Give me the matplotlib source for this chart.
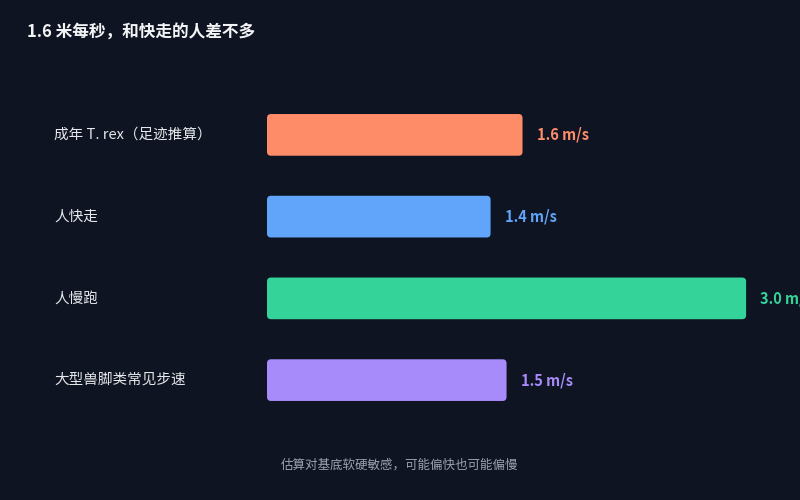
import matplotlib
matplotlib.use("Agg")
import matplotlib.pyplot as plt
from matplotlib.patches import FancyBboxPatch
from matplotlib.transforms import blended_transform_factory

plt.rcParams['font.family'] = ['Noto Sans CJK SC', 'DejaVu Sans']

# data
categories = ["成年 T. rex（足迹推算）", "人快走", "人慢跑", "大型兽脚类常见步速"]
speeds = [1.6, 1.4, 3.0, 1.5]
value_labels = ["1.6 m/s", "1.4 m/s", "3.0 m/s", "1.5 m/s"]
colors = ["#ff8c69", "#60a5fa", "#34d399", "#a78bfa"]
title = "1.6 米每秒，和快走的人差不多"
footnote = "估算对基底软硬敏感，可能偏快也可能偏慢"

BG = "#0f1422"
W, H = 800, 500

fig = plt.figure(figsize=(8, 5), dpi=100, facecolor=BG)
# axes: x from 267px to right edge, y from 94px to 421px
ax = fig.add_axes([267 / W, 1 - 421 / H, (W - 267) / W, (421 - 94) / H])
ax.set_facecolor(BG)
ax.set_xlim(0, (W - 267) / 159.7)
ax.set_ylim(3.5, -0.5)
ax.axis("off")

bars = ax.barh(range(len(speeds)), speeds, height=0.51, color=colors)

# swap plain bars for rounded ones
px_x = 159.7
px_y = 81.75
radius = 4 / px_x
for b, c in zip(bars, colors):
    x0, y0 = b.get_x(), b.get_y()
    w, h = b.get_width(), b.get_height()
    b.set_visible(False)
    rb = FancyBboxPatch((x0, y0), w, h,
                        boxstyle=f"round,pad=0,rounding_size={radius}",
                        mutation_aspect=px_x / px_y,
                        facecolor=c, edgecolor="none")
    ax.add_patch(rb)

for i, (v, lab, c) in enumerate(zip(speeds, value_labels, colors)):
    ax.text(v + 14 / px_x, i, lab, color=c, fontsize=10.5, fontweight="bold",
            va="center", ha="left", clip_on=False)

trans = blended_transform_factory(fig.transFigure, ax.transData)
for i, cat in enumerate(categories):
    ax.text(54 / W, i, cat, transform=trans, color="#e5e7eb", fontsize=10.5,
            va="center", ha="left")

fig.text(27 / W, 1 - 32 / H, title, color="#f3f4f6", fontsize=12,
         fontweight="bold", va="center", ha="left")
fig.text(0.5, 1 - 465 / H, footnote, color="#9ca3af", fontsize=9,
         va="center", ha="center")

fig.savefig("out.png", dpi=100, facecolor=BG)
